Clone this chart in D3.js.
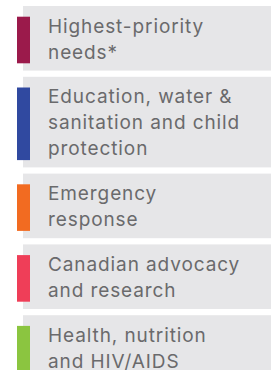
<!DOCTYPE html>
<html lang="en">
<head>
<meta charset="utf-8">
<title>Funding areas</title>
<script src="https://d3js.org/d3.v7.min.js"></script>
<style>
  body { margin: 0; background: #fff; }
  .label { font-family: Inter, "Open Sans", sans-serif; font-size: 19px; letter-spacing: 0.9px; fill: #6a6a6c; }
</style>
</head>
<body>
<div id="chart"></div>
<script>
// legend entries (each label already split into its lines)
var categories = [
  ["Highest-priority", "needs*"],
  ["Education, water &", "sanitation and child", "protection"],
  ["Emergency", "response"],
  ["Canadian advocacy", "and research"],
  ["Health, nutrition", "and HIV/AIDS"]
];
var colours = ["#9b1a4b", "#3049a0", "#f26b21", "#ef3e58", "#8bc540"];

var w = 271, h = 370;
var lineH = 26, pad = 6.3, gap = 6.2;

var svg = d3.select("#chart").append("svg")
  .attr("width", w).attr("height", h);

// stack boxes: running total of lines gives each box's top
var cum = [0];
categories.forEach(function(d, i) { cum.push(cum[i] + d.length); });
var y = function(i) { return 6 + cum[i] * lineH + i * (2 * pad + gap); };

var items = svg.selectAll("g.item")
  .data(categories)
  .enter().append("g")
  .attr("class", "item")
  .attr("transform", function(d, i) { return "translate(0," + y(i) + ")"; });

items.append("rect")
  .attr("x", 23).attr("y", 0)
  .attr("width", w - 23)
  .attr("height", function(d) { return d.length * lineH + 2 * pad; })
  .attr("fill", "#e6e6e8");

items.append("rect")
  .attr("x", 17).attr("y", 10.7)
  .attr("width", 13)
  .attr("height", function(d) { return d.length * lineH - 5.4; })
  .attr("fill", function(d, i) { return colours[i]; });

items.each(function(d) {
  var t = d3.select(this).append("text").attr("class", "label");
  t.selectAll("tspan").data(d).enter().append("tspan")
    .attr("x", 48)
    .attr("y", function(l, j) { return 26.7 + j * lineH; })
    .text(function(l) { return l; });
});
</script>
</body>
</html>
